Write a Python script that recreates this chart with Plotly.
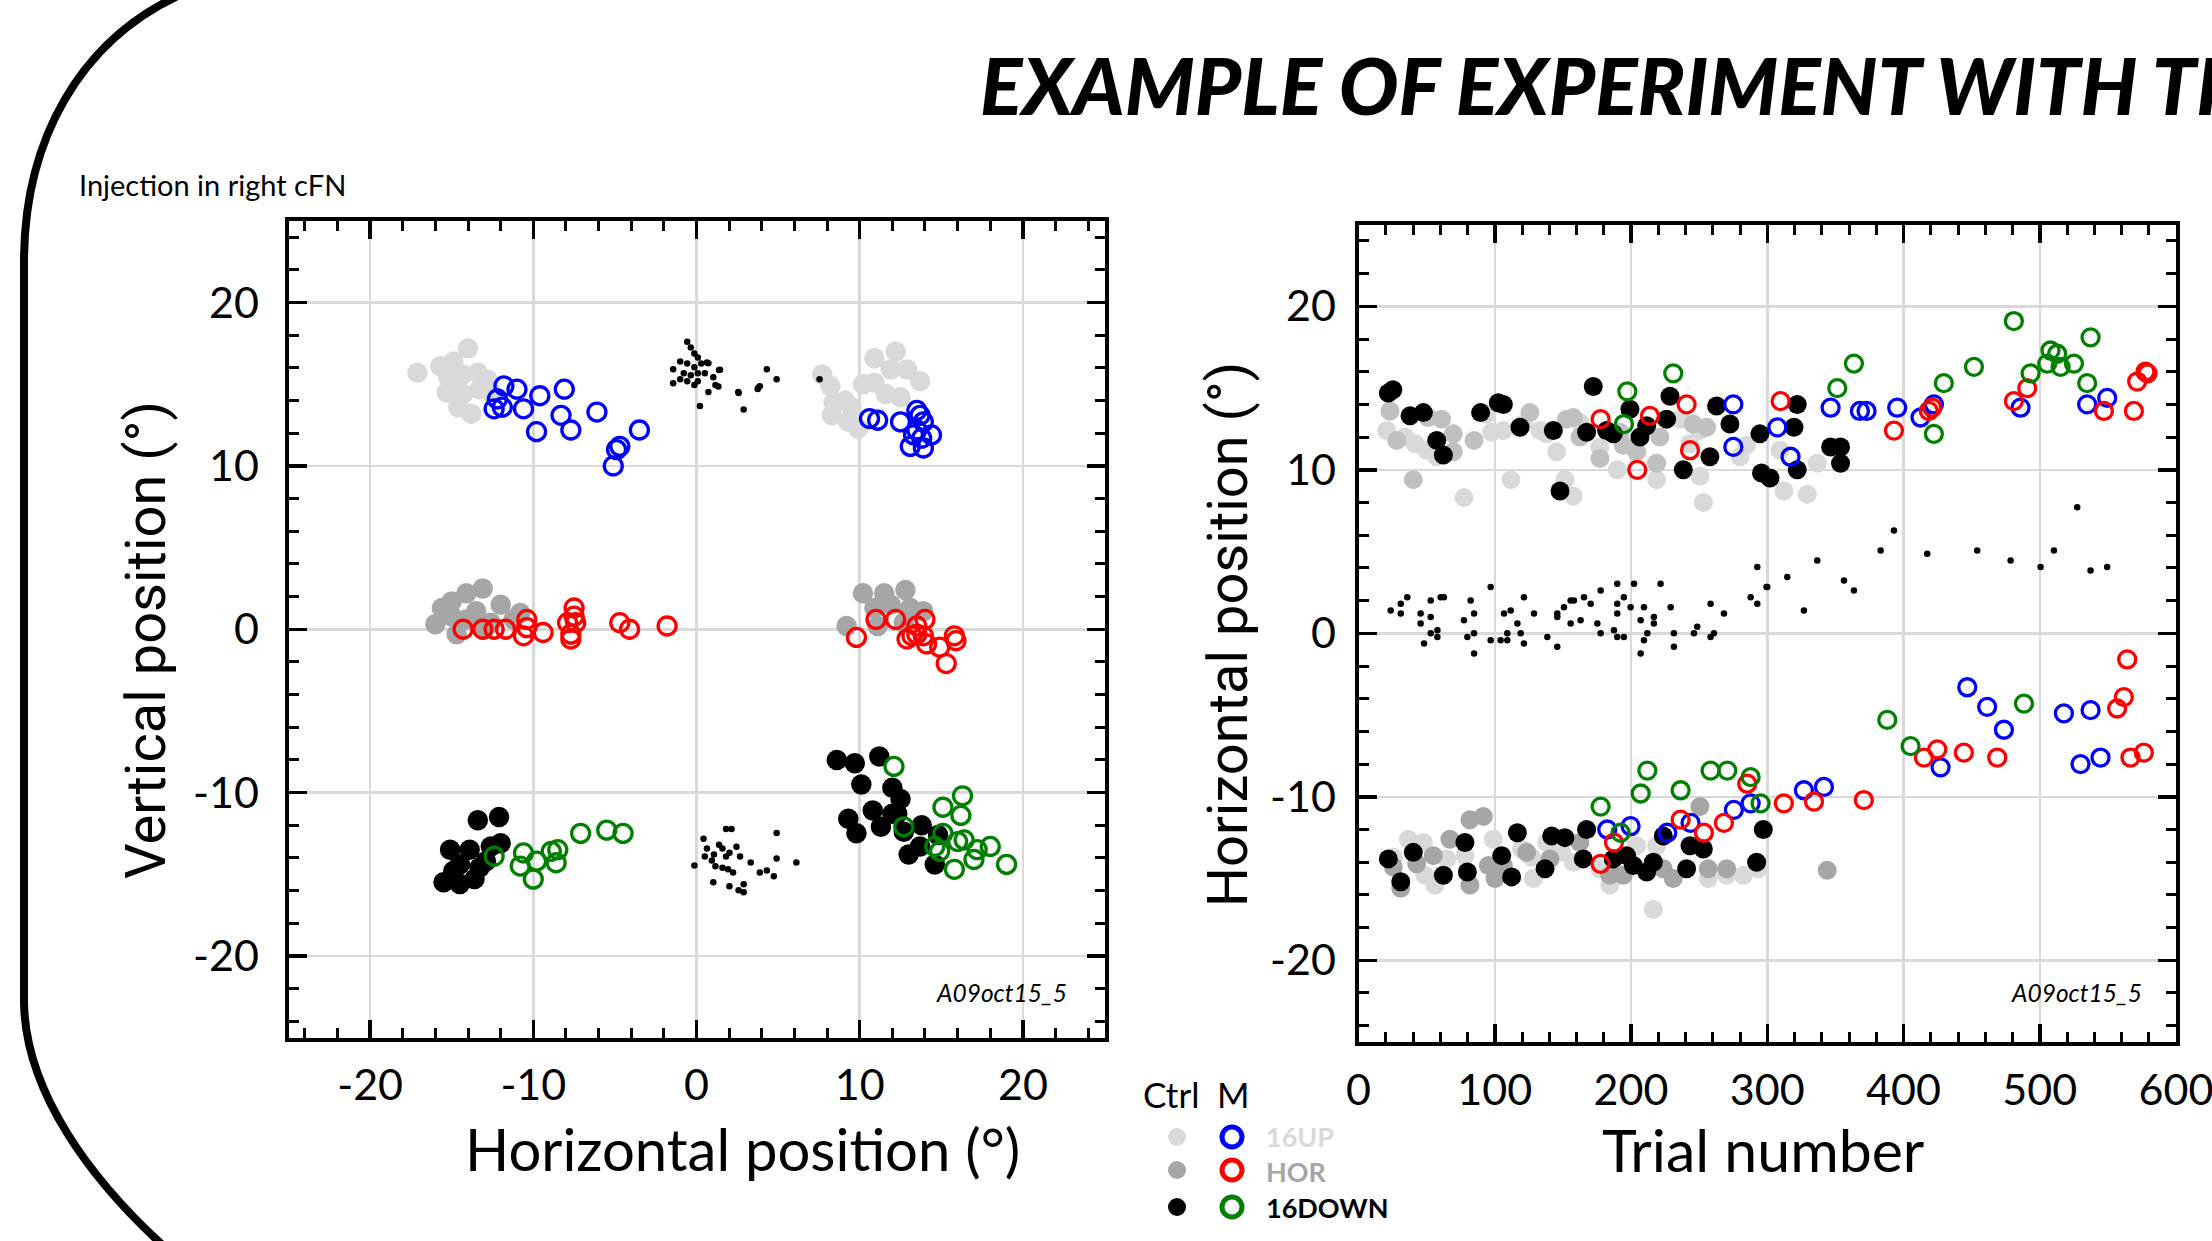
import plotly.graph_objects as go

W, H = 2212, 1241

# ---------------- Left panel: vertical vs horizontal position ----------------
ctrl_up_x = [-17.1, -15.7, -14.9, -14.0, -15.2, -14.3, -13.4, -12.8, -15.3, -14.3, -13.3, -14.6, -13.8, -12.6, -14.8,
             7.7, 8.2, 8.4, 8.3, 9.1, 9.3, 9.9, 10.2, 10.9, 10.9, 12.2, 11.9, 12.9, 13.7, 11.6, 12.5, 9.5]
ctrl_up_y = [15.7, 16.1, 16.4, 17.2, 15.4, 15.6, 15.7, 15.3, 14.5, 14.4, 14.7, 13.6, 13.2, 14.5, 15.0,
             15.6, 14.9, 13.9, 13.1, 14.0, 12.7, 12.3, 15.0, 15.1, 16.6, 17.0, 15.9, 15.9, 15.2, 14.4, 14.2, 13.6]

m_up_x = [-11.8, -11.0, -9.6, -8.1, -12.2, -11.9, -12.4, -10.6, -8.3, -7.7, -9.8, -6.1, -3.5, -4.7, -4.9, -5.1,
          10.6, 11.1, 12.5, 13.5, 13.7, 13.9, 13.5, 14.4, 13.8, 13.1, 13.9, 13.3]
m_up_y = [14.9, 14.7, 14.3, 14.7, 14.1, 13.6, 13.5, 13.5, 13.1, 12.2, 12.1, 13.3, 12.2, 11.2, 11.0, 10.0,
          12.9, 12.8, 12.7, 13.4, 13.1, 12.7, 12.2, 11.9, 11.7, 11.2, 11.1, 11.9]

ctrl_hor_x = [-13.1, -14.1, -15.0, -15.6, -16.0, -14.7, -12.0, -13.5, -11.2, -12.6, -14.1, -10.8, -15.0, -13.0,
              9.2, 10.2, 11.5, 12.8, 10.9, 11.9, 13.1, 13.9, 11.1, 12.7]
ctrl_hor_y = [2.5, 2.2, 1.7, 1.3, 0.3, -0.3, 1.5, 1.1, 0.6, 0.4, 0.6, 1.0, 0.8, 0.0,
              0.2, 2.2, 2.2, 2.4, 1.3, 1.5, 1.3, 1.1, 0.2, 0.4]

m_hor_x = [-14.3, -13.1, -12.4, -11.7, -10.4, -10.6, -10.4, -9.4, -7.5, -7.5, -7.4, -7.9, -7.7, -7.7, -4.7, -4.1, -1.8,
           9.8, 11.0, 12.2, 14.0, 13.5, 12.9, 13.2, 13.9, 14.1, 14.9, 15.8, 15.9, 15.3, 13.5]
m_hor_y = [0.0, 0.0, 0.0, 0.0, 0.6, -0.4, 0.1, -0.2, 1.3, 0.8, 0.4, 0.4, -0.3, -0.6, 0.4, 0.0, 0.2,
           -0.5, 0.6, 0.6, 0.6, 0.2, -0.6, -0.4, -0.4, -0.9, -1.1, -0.4, -0.7, -2.1, -0.3]

ctrl_down_x = [-12.1, -13.4, -15.1, -13.9, -12.6, -12.0, -14.5, -13.3, -15.5, -14.5, -13.6, -12.9, -14.9,
               8.6, 9.7, 11.2, 10.1, 12.0, 12.5, 9.3, 9.8, 10.8, 11.3, 12.0, 12.7, 13.0, 13.8, 13.7, 14.6, 14.8, 12.3]
ctrl_down_y = [-11.5, -11.7, -13.5, -13.5, -13.3, -13.1, -14.4, -14.6, -15.5, -15.6, -15.3, -14.2, -14.8,
               -8.0, -8.2, -7.8, -9.5, -9.7, -10.4, -11.6, -12.5, -11.1, -12.1, -11.3, -12.4, -13.8, -12.0, -13.3, -14.4, -12.6, -11.3]

m_down_x = [-12.4, -10.6, -10.8, -9.8, -10.0, -8.9, -8.5, -8.6, -7.1, -5.5, -4.5,
            12.1, 12.7, 15.1, 16.3, 16.2, 15.1, 14.6, 14.9, 16.0, 16.4, 17.2, 18.0, 17.0, 15.8, 19.0]
m_down_y = [-13.9, -13.7, -14.5, -14.2, -15.3, -13.6, -13.5, -14.3, -12.5, -12.3, -12.5,
            -8.4, -12.1, -10.9, -10.2, -11.4, -12.5, -13.3, -13.6, -13.0, -12.9, -13.5, -13.3, -14.1, -14.7, -14.4]

dots_x = [-0.57, -0.35, -0.13, 0.08, -1.0, -0.57, -0.13, 0.29, 0.64, -1.43, -0.78, -0.35, 0.08, 0.51, 1.38,
          -1.0, -0.57, 0.08, 1.03, 1.16, -1.43, -0.13, 2.58, 3.75, 4.31, 4.91, 7.54, 0.21, 2.89, 3.88,
          0.73, 1.44, 1.34, 0.73, 2.56, 3.78,
          0.43, 0.64, 1.07, 0.94, 1.38, 1.59, 1.81, 2.02, 2.45, 2.67, 1.16, 1.59, 1.93, 2.24, 1.03, 2.02,
          2.89, 2.89, 3.32, 3.88, 4.31, 4.74, 4.91, 6.12, -0.13, 1.81, 2.15, 4.91, 0.51, 2.58]
dots_y = [17.61, 17.25, 16.88, 16.64, 16.40, 16.28, 16.04, 16.28, 16.33, 15.92, 15.67, 15.56, 15.67, 15.67, 15.87,
          15.31, 15.19, 15.19, 15.43, 14.95, 15.07, 14.95, 14.47, 14.71, 15.92, 15.31, 15.31, 13.67, 13.45, 14.88,
          16.29, 15.89, 14.86, 14.53, 14.53, 14.79,
          -12.83, -13.43, -13.80, -14.16, -13.19, -13.43, -13.92, -13.68, -13.32, -13.92, -14.52, -14.60, -14.69, -14.89, -15.50, -15.74,
          -16.10, -15.61, -14.28, -14.89, -14.77, -15.13, -14.04, -14.28, -14.46, -12.23, -12.23, -12.47, -13.92, -15.98]

# ---------------- Right panel: horizontal position vs trial number ----------------
r_ctrl_up_t = [20.7, 34.1, 41.5, 50.0, 57.4, 77.4, 97.7, 106.3, 94.1, 121.0, 133.2, 111.9, 138.1, 145.4, 151.5, 157.6,
               162.5, 177.2, 189.9, 218.8, 236.0, 250.6, 243.3, 250.6, 253.1, 284.8, 280.0, 336.7, 312.2, 329.4, 309.3,
               25.6, 36.6, 47.6, 48.8, 56.1, 64.7, 78.1, 98.9, 119.7, 127.1, 128.3, 138.1, 149.1, 157.6, 177.2, 184.5,
               204.1, 216.4, 218.8, 256.7, 270.2, 282.4, 293.4]
r_ctrl_up_y = [12.4, 12.0, 11.6, 11.2, 10.8, 8.3, 12.3, 12.4, 13.4, 12.8, 12.4, 9.4, 12.2, 11.1, 9.4, 8.4,
               12.9, 11.4, 10.0, 9.4, 13.1, 12.4, 11.6, 9.6, 8.0, 11.5, 10.8, 10.4, 8.7, 8.5, 11.2,
               -13.7, -12.6, -12.8, -14.8, -15.4, -13.8, -13.6, -12.6, -13.2, -13.7, -15.0, -12.8, -13.4, -14.0, -14.4, -15.4,
               -13.0, -16.9, -13.0, -15.0, -14.8, -14.8, -14.4]

r_ctrl_hor_hi_t = [23.1, 28.0, 51.2, 61.0, 69.6, 69.6, 40.2, 84.8, 125.8, 152.7, 157.6, 162.5, 177.2, 191.9, 194.3,
                   204.1, 221.2, 218.8, 245.7, 255.5]
r_ctrl_hor_hi_y = [13.6, 11.8, 13.2, 13.1, 12.2, 11.1, 9.4, 11.8, 13.5, 13.1, 13.2, 12.0, 10.7, 12.3, 11.5,
                   11.1, 12.0, 10.4, 12.8, 12.6]

r_ctrl_hor_lo_t = [25.6, 31.0, 42.7, 54.9, 67.1, 81.8, 81.8, 91.6, 95.3, 100.2, 106.3, 123.4, 140.5, 162.5, 184.5,
                   194.3, 223.7, 231.0, 250.6, 256.7, 270.2, 344.0]
r_ctrl_hor_lo_y = [-14.3, -15.6, -14.1, -13.6, -12.6, -15.4, -11.4, -11.2, -14.2, -15.0, -14.2, -13.4, -13.8, -12.8, -14.8,
                   -14.8, -14.4, -15.0, -10.6, -14.4, -14.4, -14.5]

r_ctrl_down_t = [21.9, 25.2, 37.8, 47.6, 57.4, 62.3, 89.6, 102.6, 106.3, 118.5, 143.0, 147.9, 167.4, 172.3, 182.1, 187.0,
                 199.2, 206.6, 211.5, 226.1, 228.6, 238.4, 257.9, 262.8, 272.6, 294.6, 295.8, 322.0, 319.6, 346.5, 353.8,
                 353.8, 322.0, 302.0,
                 21.9, 31.0, 40.2, 62.3, 78.1, 79.9, 105.1, 112.4, 116.6, 136.9, 141.8, 151.5, 165.0, 167.4, 187.0, 196.8,
                 201.7, 211.5, 216.4, 223.7, 243.3, 253.1, 240.8, 292.2, 297.1]
r_ctrl_down_y = [14.7, 14.9, 13.3, 13.5, 11.8, 10.9, 13.5, 14.1, 14.0, 12.6, 12.4, 8.7, 12.3, 15.1, 12.4, 12.2,
                 13.7, 12.0, 12.7, 13.1, 14.5, 10.0, 10.8, 13.9, 12.8, 12.2, 9.8, 14.0, 12.6, 11.4, 11.4,
                 10.4, 10.0, 9.5,
                 -13.8, -15.2, -13.4, -14.8, -12.8, -14.6, -13.6, -14.9, -12.2, -14.4, -12.4, -12.5, -13.8, -12.0, -13.8, -13.6,
                 -14.2, -14.6, -14.0, -12.4, -13.0, -13.2, -14.4, -14.0, -12.0]

r_m_up_t = [275.1, 275.1, 307.4, 317.1, 346.5, 368.0, 372.9, 395.4, 412.5, 422.3, 485.9, 534.8, 549.5,
            182.6, 199.7, 226.6, 243.7, 275.5, 287.8, 326.9, 341.6, 427.2, 446.8, 461.4, 473.7, 517.7, 537.3, 529.9, 544.6]
r_m_up_y = [14.0, 11.4, 12.6, 10.8, 13.8, 13.6, 13.6, 13.8, 13.2, 14.0, 13.8, 14.0, 14.4,
            -12.0, -11.8, -12.2, -11.6, -10.8, -10.4, -9.6, -9.4, -8.2, -3.3, -4.5, -5.9, -4.9, -4.7, -8.0, -7.6]

r_m_hor_t = [177.7, 213.9, 240.8, 243.3, 204.6, 309.8, 393.0, 418.6, 421.1, 481.0, 490.8, 547.1, 569.1, 571.5, 577.6, 579.1,
             177.7, 187.5, 236.4, 253.5, 268.2, 285.3, 312.2, 334.3, 370.9, 415.0, 424.8, 444.3, 468.8, 556.8, 561.7,
             564.2, 566.6, 576.4]
r_m_hor_y = [13.1, 13.3, 14.0, 11.2, 10.0, 14.2, 12.4, 13.6, 13.8, 14.2, 15.0, 13.6, 13.6, 15.4, 16.0, 15.9,
             -14.1, -12.8, -11.4, -12.2, -11.6, -9.2, -10.4, -10.3, -10.2, -7.6, -7.1, -7.3, -7.6, -4.6, -3.9,
             -1.6, -7.6, -7.3]

r_m_down_t = [197.3, 231.0, 194.8, 363.6, 351.4, 422.3, 429.6, 451.7, 481.0, 493.3, 507.9, 512.8, 505.5, 515.3, 525.1,
              537.3, 534.8,
              177.7, 192.4, 207.1, 212.0, 236.4, 258.4, 270.7, 287.8, 295.1, 388.1, 405.2, 488.4]
r_m_down_y = [14.8, 15.9, 12.8, 16.5, 15.0, 12.2, 15.3, 16.3, 19.1, 15.9, 17.3, 17.1, 16.5, 16.3, 16.5,
              18.1, 15.3,
              -10.6, -12.2, -9.8, -8.4, -9.6, -8.4, -8.4, -8.8, -10.4, -5.3, -6.9, -4.3]

r_dots_t = [292.7, 299.5, 287.8, 292.7, 258.4, 221.7, 202.2, 189.9, 177.7, 165.5, 170.4, 155.7, 158.1, 150.8, 121.4,
            97.0, 82.3, 60.3, 62.7, 53.0, 35.8, 31.0, 23.6, 194.8, 189.9, 199.7, 209.5, 229.1, 111.7,
            31.0, 45.6, 53.0, 45.6, 53.0, 57.9, 57.9, 48.1, 77.4, 84.8, 79.9, 84.8, 84.8, 97.0, 104.3, 109.2,
            109.2, 106.8, 116.6, 119.0, 121.4, 128.8, 138.6, 145.9, 145.9, 155.7, 163.0, 175.3, 177.7, 187.5, 189.9,
            194.8, 189.9, 207.1, 209.5, 207.1, 212.0, 216.8, 216.8, 231.5, 231.5, 246.2, 248.6, 258.4, 260.9, 268.2,
            145.9,
            393.0, 383.2, 417.4, 454.1, 478.6, 500.6, 510.4, 527.5, 537.3, 549.5, 336.7, 314.7, 356.3, 363.6, 300.0, 326.9]
r_dots_y = [4.05, 2.83, 2.21, 1.80, 1.80, 3.03, 3.03, 3.03, 2.62, 2.21, 1.80, 2.01, 2.01, 1.60, 2.21,
            2.83, 2.01, 2.21, 2.21, 2.01, 2.21, 1.80, 1.40, 2.21, 1.80, 1.60, 1.60, 1.60, 1.40,
            1.21, 1.21, 1.00, 0.60, 0.00, 0.19, -0.22, -0.62, 0.80, 1.21, -0.22, 0.00, -1.23, -0.42, -0.42, -0.42,
            0.00, 1.21, 0.60, 0.00, -0.62, 1.21, -0.22, 1.00, -0.83, 0.60, 0.80, 0.60, 0.00, 0.19, -0.22,
            -0.22, 1.21, 0.80, -0.42, -1.23, 0.00, 1.00, 0.60, 0.00, -0.83, 0.00, 0.40, -0.22, 0.00, 1.21,
            1.21,
            6.29, 5.07, 4.86, 5.07, 4.45, 4.05, 5.07, 7.71, 3.84, 4.05, 4.45, 3.44, 3.23, 2.62, 2.83, 1.40]

# tick values / labels (hyphen-minus, as in the original)
pos_ticks = [-20, -10, 0, 10, 20]
pos_ticktext = ["-20", "-10", "0", "10", "20"]
trial_ticks = [0, 100, 200, 300, 400, 500, 600]
trial_ticktext = ["0", "100", "200", "300", "400", "500", "600"]

# ---------------- Styles ----------------
LIGHT, MID, MID_HI, DARK = "#d9d9d9", "#a6a6a6", "#c0c0c0", "#000000"
BLUE, RED, GREEN = "#0000ff", "#ff0000", "#008000"
CAL = "Lato, Carlito, Calibri, sans-serif"
SANS = "Roboto, Noto Sans, sans-serif"


def px(x):
    return x / W


def py(y):
    return 1 - y / H


fig = go.Figure()


def filled(x, y, color, xa, ya, size=19):
    fig.add_trace(go.Scatter(x=x, y=y, mode="markers", xaxis=xa, yaxis=ya, showlegend=False,
                             marker=dict(size=size, color=color, line=dict(width=0))))


def ring(x, y, color, xa, ya, size=17):
    fig.add_trace(go.Scatter(x=x, y=y, mode="markers", xaxis=xa, yaxis=ya, showlegend=False,
                             marker=dict(size=size, symbol="circle-open", color=color,
                                         line=dict(width=3.3, color=color))))


def dots(x, y, xa, ya):
    fig.add_trace(go.Scatter(x=x, y=y, mode="markers", xaxis=xa, yaxis=ya, showlegend=False,
                             marker=dict(size=6.5, color="black")))


# left panel
filled(ctrl_up_x, ctrl_up_y, LIGHT, "x", "y", 20.5)
filled(ctrl_hor_x, ctrl_hor_y, MID, "x", "y", 20.5)
filled(ctrl_down_x, ctrl_down_y, DARK, "x", "y", 20.5)
dots(dots_x, dots_y, "x", "y")
ring(m_up_x, m_up_y, BLUE, "x", "y", 18)
ring(m_hor_x, m_hor_y, RED, "x", "y", 18)
ring(m_down_x, m_down_y, GREEN, "x", "y", 18)

# right panel
filled(r_ctrl_up_t, r_ctrl_up_y, LIGHT, "x2", "y2")
filled(r_ctrl_hor_hi_t, r_ctrl_hor_hi_y, MID_HI, "x2", "y2")
filled(r_ctrl_hor_lo_t, r_ctrl_hor_lo_y, MID, "x2", "y2")
filled(r_ctrl_down_t, r_ctrl_down_y, DARK, "x2", "y2")
dots(r_dots_t, r_dots_y, "x2", "y2")
ring(r_m_up_t, r_m_up_y, BLUE, "x2", "y2")
ring(r_m_hor_t, r_m_hor_y, RED, "x2", "y2")
ring(r_m_down_t, r_m_down_y, GREEN, "x2", "y2")

tickfont = dict(family=CAL, size=43, color="black")


def axis(domain, rng, tvals, ttext, mdtick, standoff, anchor):
    return dict(domain=domain, range=rng, tickmode="array", tickvals=tvals, ticktext=ttext, anchor=anchor,
                showgrid=True, gridcolor="#d9d9d9", gridwidth=2.5, zeroline=False,
                showline=True, linecolor="black", linewidth=4, mirror="ticks",
                ticks="inside", ticklen=18, tickwidth=3.5, tickcolor="black",
                minor=dict(tickmode="linear", dtick=mdtick, tick0=0, ticks="inside", ticklen=10, tickwidth=3,
                           tickcolor="black", showgrid=False),
                tickfont=tickfont, ticklabelstandoff=standoff, ticklabeloverflow="allow",
                automargin=False, fixedrange=True)


fig.update_layout(
    width=W, height=H, autosize=False,
    margin=dict(l=0, r=0, t=0, b=0, pad=0, autoexpand=False),
    paper_bgcolor="white", plot_bgcolor="white",
    xaxis=axis([px(288.5), px(1104.5)], [-25, 25], pos_ticks, pos_ticktext, 2, 7, "y"),
    yaxis=axis([py(1037.5), py(221)], [-25, 25], pos_ticks, pos_ticktext, 2, 17, "x"),
    xaxis2=axis([px(1358.5), px(2176)], [0, 600], trial_ticks, trial_ticktext, 20, 7, "y2"),
    yaxis2=axis([py(1042), py(224.6)], [-25, 25], pos_ticks, pos_ticktext, 2, 10, "x2"),
)

ann = []


def text(t, x, y, size, family=CAL, color="black", xanchor="left", angle=0, weight="normal", style="normal"):
    ann.append(dict(text=t, x=px(x), y=py(y), xref="paper", yref="paper", showarrow=False,
                    xanchor=xanchor, yanchor="middle", textangle=angle,
                    font=dict(family=family, size=size, color=color, weight=weight, style=style)))


text("EXAMPLE OF EXPERIMENT WITH TIME COURSE", 978, 84, 79, weight=900, style="italic")
text("Injection in right cFN", 77, 184, 29)
text("A09oct15_5", 1069, 992, 24.5, xanchor="right", style="italic")
text("A09oct15_5", 2144, 992, 24.5, xanchor="right", style="italic")
text("Horizontal position (°)", 742, 1148, 58, xanchor="center")
text("Trial number", 1763, 1149, 59, xanchor="center")
text("Vertical position (°)", 146, 640, 56, family=SANS, xanchor="center", angle=-90)
text("Horizontal position (°)", 1228, 635, 56, family=SANS, xanchor="center", angle=-90)
text("Ctrl", 1141, 1094, 35)
text("M", 1215, 1094, 35)
text("16UP", 1264, 1136, 27, color=LIGHT, weight="bold")
text("HOR", 1264, 1171, 27, color=MID, weight="bold")
text("16DOWN", 1264, 1207, 27, color=DARK, weight="bold")
fig.update_layout(annotations=ann)

shapes = []
# legend keys
for cy, c_fill, c_ring in [(1137, LIGHT, BLUE), (1170, MID, RED), (1207, DARK, GREEN)]:
    r = 9
    shapes.append(dict(type="circle", xref="paper", yref="paper",
                       x0=px(1177 - r), x1=px(1177 + r), y0=py(cy + r), y1=py(cy - r),
                       fillcolor=c_fill, line=dict(width=0)))
    r2 = 10
    shapes.append(dict(type="circle", xref="paper", yref="paper",
                       x0=px(1232 - r2), x1=px(1232 + r2), y0=py(cy + r2), y1=py(cy - r2),
                       fillcolor="rgba(0,0,0,0)", line=dict(width=5, color=c_ring)))

# slide frame (rounded border on the left)
pts = [("M", [(182, -6)]), ("C", [(80, 40), (24, 140), (24, 262)]), ("L", [(24, 1000)]),
       ("C", [(24, 1090), (90, 1180), (168, 1250)])]
path = ""
for cmd, ps in pts:
    path += cmd + " " + " ".join(f"{px(a):.5f},{py(b):.5f}" for a, b in ps) + " "
shapes.append(dict(type="path", xref="paper", yref="paper", path=path.strip(),
                   line=dict(color="black", width=8), fillcolor="rgba(0,0,0,0)"))
fig.update_layout(shapes=shapes)

fig.write_html("out.html",
               config={"displayModeBar": False, "staticPlot": True, "responsive": False},
               post_script="document.body.style.margin='0';document.body.style.overflow='hidden';")
